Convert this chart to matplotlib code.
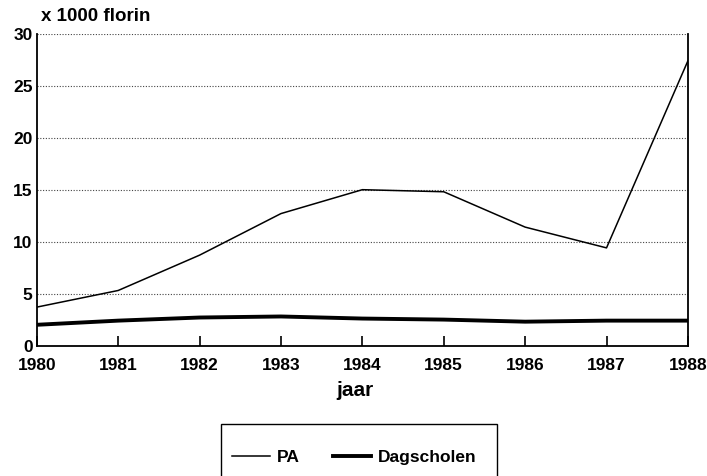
"""Uitgaven PA vs. Dagscholen, 1980-1988 (x 1000 florin)."""
import matplotlib
matplotlib.use("Agg")
import matplotlib.pyplot as plt
from matplotlib.patches import Rectangle

years = [1980, 1981, 1982, 1983, 1984, 1985, 1986, 1987, 1988]
pa = [3.7, 5.3, 8.7, 12.7, 15.0, 14.8, 11.4, 9.4, 27.4]
dagscholen = [2.0, 2.4, 2.7, 2.8, 2.6, 2.5, 2.3, 2.4, 2.4]
yticks = [0, 5, 10, 15, 20, 25, 30]

plt.rcParams["font.family"] = ["Liberation Sans", "DejaVu Sans"]
plt.rcParams["font.weight"] = "bold"

fig = plt.figure(figsize=(7.07, 4.76), dpi=100)
ax = fig.add_axes([0.052, 0.274, 0.921, 0.655])

ax.plot(years, pa, color="black", linewidth=1.1, label="PA")
ax.plot(years, dagscholen, color="black", linewidth=2.8, label="Dagscholen")

ax.set_xlim(years[0], years[-1])
ax.set_ylim(0, 30)
ax.set_xticks(years)
ax.set_xticklabels([str(y) for y in years], fontsize=12.5, fontweight="bold")
ax.set_yticks(yticks)
ax.set_yticklabels([str(v) for v in yticks], fontsize=12.5, fontweight="bold")
ax.tick_params(axis="x", direction="in", length=7, width=1.2, pad=9)
ax.tick_params(axis="y", length=0, pad=3)

ax.yaxis.grid(True, linestyle=(0, (1, 1.5)), color="#444444", linewidth=0.8)
ax.spines["top"].set_visible(False)
for s in ("left", "right", "bottom"):
    ax.spines[s].set_linewidth(1.3)

fig.text(0.058, 0.966, "x 1000 florin", fontsize=13.5, fontweight="bold",
         ha="left", va="center")
fig.text(355 / 707, 1 - 390 / 476, "jaar", fontsize=15, fontweight="bold",
         ha="center", va="center")

# legend box runs off the bottom edge of the figure
fig.patches.append(Rectangle((221 / 707, -0.05), (497 - 221) / 707,
                             1 - 424 / 476 + 0.05, transform=fig.transFigure,
                             fill=False, edgecolor="black", linewidth=1.0))
leg = fig.legend(loc="center left", bbox_to_anchor=(232 / 707, 1 - 457 / 476),
                 ncol=2, frameon=False, borderpad=0, borderaxespad=0,
                 handlelength=2.2, columnspacing=1.9, handletextpad=0.4,
                 prop={"weight": "bold", "size": 12.5})

fig.savefig("out.png", dpi=100)
